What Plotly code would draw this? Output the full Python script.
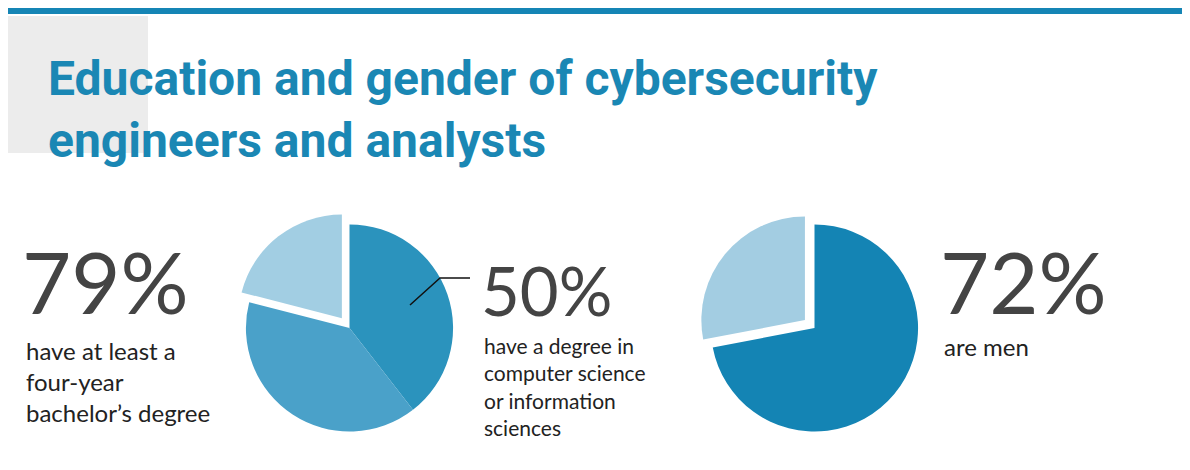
import plotly.graph_objects as go

pie1_labels = ["CS or information sciences degree", "Other bachelor's degree", "No four-year degree"]
pie1_values = [39.5, 39.5, 21]
pie1_colors = ["#2b93bd", "#4aa1c9", "#a2cee3"]
pie1_pull = [0, 0, 0.12]

pie2_labels = ["Men", "Women"]
pie2_values = [72, 28]
pie2_colors = ["#1484b4", "#a3cde2"]
pie2_pull = [0, 0.12]

W, H, OFF = 1174, 454, 8
def px(x): return (x - OFF) / W
def py(y): return 1 - (y - OFF) / H

fig = go.Figure()
fig.add_trace(go.Pie(labels=pie1_labels, values=pie1_values, sort=False, direction="clockwise",
                     rotation=0, marker=dict(colors=pie1_colors), pull=pie1_pull,
                     textinfo="none", hoverinfo="label+percent", showlegend=False,
                     domain=dict(x=[px(233), px(466)], y=[py(444), py(212)])))
fig.add_trace(go.Pie(labels=pie2_labels, values=pie2_values, sort=False, direction="clockwise",
                     rotation=0, marker=dict(colors=pie2_colors), pull=pie2_pull,
                     textinfo="none", hoverinfo="label+percent", showlegend=False,
                     domain=dict(x=[px(698), px(931)], y=[py(444), py(212)])))

shapes = [
    dict(type="rect", xref="paper", yref="paper", x0=0, x1=1, y0=py(14), y1=1,
         fillcolor="#1585b5", line=dict(width=0), layer="below"),
    dict(type="rect", xref="paper", yref="paper", x0=0, x1=px(148), y0=py(153), y1=py(16),
         fillcolor="#ececec", line=dict(width=0), layer="below"),
    dict(type="path", xref="paper", yref="paper",
         path=f"M {px(410)},{py(305)} L {px(440)},{py(278)} L {px(470)},{py(278)}",
         line=dict(color="#111", width=1.5)),
]

def ann(x, y, text, size, color="#444", family="Lato"):
    return dict(x=px(x), y=py(y), xref="paper", yref="paper", text=text, showarrow=False,
                xanchor="left", yanchor="top", align="left",
                font=dict(size=size, color=color, family=family))

annotations = [
    ann(46, 48, "<b>Education and gender of cybersecurity<br>engineers and analysts</b>", 48, "#1a87b4", "Roboto"),
    ann(20, 228, "79%", 85),
    ann(24, 334, "have at least a<br>four-year<br>bachelor’s degree", 24, "#222"),
    ann(479, 248, "50%", 67),
    ann(482, 331, "have a degree in<br>computer science<br>or information<br>sciences", 21, "#222"),
    ann(938, 228, "72%", 85),
    ann(942, 330, "are men", 24, "#222"),
]

fig.update_layout(width=W, height=H, margin=dict(l=0, r=0, t=0, b=0),
                  paper_bgcolor="white", plot_bgcolor="white",
                  shapes=shapes, annotations=annotations)
fig.write_html("out.html")
